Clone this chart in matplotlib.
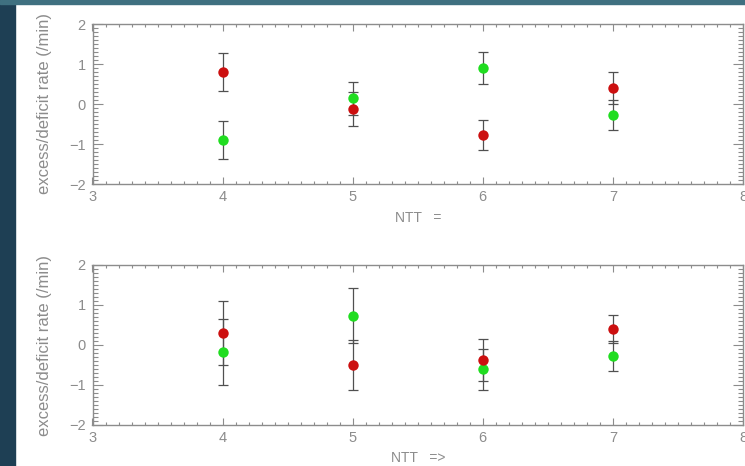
import matplotlib
matplotlib.use("Agg")
import matplotlib.pyplot as plt
from matplotlib.ticker import MultipleLocator
from matplotlib.patches import Rectangle

plt.rcParams['font.family'] = ['Liberation Sans', 'DejaVu Sans']

ntt = [4, 5, 6, 7]

# upper panel: NTT =
red_eq = [0.80, -0.12, -0.78, 0.41]
red_eq_err = [0.47, 0.42, 0.37, 0.40]
green_eq = [-0.90, 0.14, 0.89, -0.28]
green_eq_err = [0.47, 0.42, 0.40, 0.37]

# lower panel: NTT =>
red_ge = [0.31, -0.50, -0.37, 0.40]
red_ge_err = [0.80, 0.63, 0.52, 0.36]
green_ge = [-0.17, 0.73, -0.61, -0.27]
green_ge_err = [0.82, 0.69, 0.51, 0.37]

grey = '#8c8c8c'
red = '#cc1010'
green = '#20dd20'

fig = plt.figure(figsize=(7.45, 4.66), dpi=100)
fig.patch.set_facecolor('white')

# dark slide border on the left and along the top
fig.patches.append(Rectangle((0, 0), 15 / 745, 1, transform=fig.transFigure,
                             color='#1e3f54', zorder=-1))
fig.patches.append(Rectangle((0, 1 - 4 / 466), 1, 4 / 466, transform=fig.transFigure,
                             color='#3f7080', zorder=-1))

left = 92.5 / 745
width = (743 - 92.5) / 745
ax1 = fig.add_axes([left, 1 - 184 / 466, width, 160 / 466])
ax2 = fig.add_axes([left, 1 - 425 / 466, width, 160 / 466])


def panel(ax, r, r_err, g, g_err, xlabel):
    ax.errorbar(ntt, g, yerr=g_err, fmt='none', ecolor='#505050',
                elinewidth=0.9, capsize=3.5, capthick=0.9, zorder=2)
    ax.errorbar(ntt, r, yerr=r_err, fmt='none', ecolor='#505050',
                elinewidth=0.9, capsize=3.5, capthick=0.9, zorder=2)
    ax.plot(ntt, g, 'o', color=green, markersize=7.5, markeredgewidth=0, zorder=3)
    ax.plot(ntt, r, 'o', color=red, markersize=7.5, markeredgewidth=0, zorder=4)

    ax.set_xlim(3, 8)
    ax.set_ylim(-2, 2)
    ax.xaxis.set_major_locator(MultipleLocator(1))
    ax.xaxis.set_minor_locator(MultipleLocator(0.1))
    ax.yaxis.set_major_locator(MultipleLocator(1))
    ax.yaxis.set_minor_locator(MultipleLocator(0.1))
    ax.tick_params(which='both', direction='in', top=True, right=True,
                   color=grey, labelcolor=grey, labelsize=10.5, width=0.8)
    ax.tick_params(axis='x', which='major', length=5, pad=4)
    ax.tick_params(axis='x', which='minor', length=2.5)
    ax.tick_params(axis='y', which='major', length=7, pad=5)
    ax.tick_params(axis='y', which='minor', length=3.5)
    for s in ax.spines.values():
        s.set_color(grey)
        s.set_linewidth(1.0)

    ax.set_ylabel('excess/deficit rate (/min)', color=grey, fontsize=12)
    ax.yaxis.set_label_coords(-0.062, 0.5)
    ax.set_xlabel(xlabel, color=grey, fontsize=10, labelpad=5)


panel(ax1, red_eq, red_eq_err, green_eq, green_eq_err, 'NTT   =')
panel(ax2, red_ge, red_ge_err, green_ge, green_ge_err, 'NTT   =>')

fig.savefig('out.png', dpi=100, facecolor=fig.get_facecolor())
